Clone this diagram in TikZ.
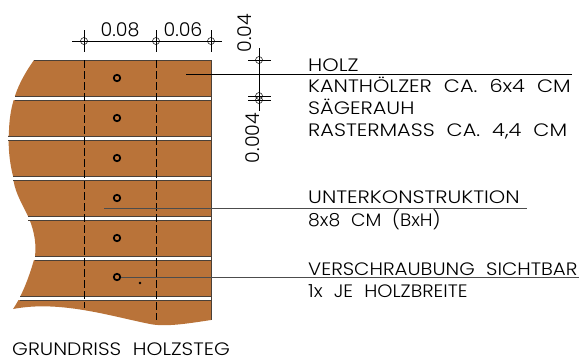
\documentclass[tikz,border=0pt]{standalone}
\usepackage{graphicx}
\usepackage{fontspec}
\setmainfont{Poppins Light}[FakeStretch=1.16]
\newfontfamily\massfont{Poppins Light}
\definecolor{holz}{HTML}{B97339}
\definecolor{fuge}{HTML}{4A4038}
\newcommand{\wortabstand}{\spaceskip=12pt\relax}
\tikzset{
  txt/.style={anchor=base west,inner sep=0pt,font=\fontsize{18}{20}\selectfont,execute at begin node=\wortabstand},
  mass/.style={inner sep=0pt,font=\massfont\fontsize{19}{20}\selectfont},
  schraube/.style={circle,draw=black,line width=1.7pt,minimum size=6.5pt,inner sep=0pt,fill=holz},
  masspunkt/.style={circle,draw=black,line width=.5pt,minimum size=7pt,inner sep=0pt},
  leader/.style={line width=1pt,black!70},
  dim/.style={line width=.6pt,black},
}
\begin{document}
\begin{tikzpicture}[x=1pt,y=-1pt]
  \useasboundingbox (0,0) rectangle (580,360);
  % holzflaeche
  \fill[holz] (34,60)--(211,60)--(211,320) .. controls (185,324) and (165,327) .. (150,324)
    .. controls (110,316) and (60,300) .. (13,309)
    .. controls (22,296) and (30,275) .. (35,256)
    .. controls (37,240) and (32,225) .. (28,216)
    .. controls (20,200) and (14,190) .. (13,176)
    .. controls (9,160) and (8,145) .. (9,130)
    .. controls (10,100) and (20,80) .. (34,60)--cycle;
  \draw[line width=.9pt,fuge] (34,60)--(211,60);
  % fugen
  \foreach \y/\x in {98/15,138/8,178/13,218/28,258/35,298/20}{
    \fill[white] (0,\y-2) rectangle (212,\y+2);
    \draw[line width=.9pt,fuge] (\x,\y-2)--(211,\y-2);
    \draw[line width=.9pt,fuge] (\x,\y+2)--(211,\y+2);
  }
  \draw[line width=.9pt,fuge] (211,60)--(211,320);
  % schnittlinien
  \draw[dim,dash pattern=on 8pt off 3pt] (84,60)--(84,308);
  \draw[dim,dash pattern=on 8pt off 3pt] (156,60)--(156,320);
  % schrauben
  \foreach \n/\y in {a/78,b/118,c/158,d/198,e/238,f/277}
    \node[schraube] (s\n) at (117,\y) {};
  \fill (140,283) circle (1.3pt);
  % masskette oben
  \node[masspunkt] (m1) at (84,41) {};
  \node[masspunkt] (m2) at (156,41) {};
  \node[masspunkt] (m3) at (211,41) {};
  \draw[dim] (72,41)--(222,41);
  \foreach \n in {m1,m2,m3}
    \draw[dim] (\n.center)++(0,-11)--++(0,22);
  \node[mass] (l08) at (120,30) {0.08};
  \node[mass] (l06) at (183,30) {0.06};
  % masskette rechts
  \node[masspunkt] (r1) at (259,60) {};
  \node[masspunkt] (r2) at (259,96) {};
  \node[masspunkt] (r3) at (259,100) {};
  \draw[dim] (259,48)--(259,111);
  \foreach \n in {r1,r2,r3}
    \draw[dim] (\n.center)++(-11,0)--++(23,0);
  \node[mass,rotate=90] (l04) at (245,33) {0.04};
  \node[mass,rotate=90] (l004) at (253,138) {0.004};
  % texte
  \node[txt] (holz) at (308,71) {HOLZ};
  \node[txt] (kant) at (308,92) {KANTHÖLZER CA. 6x4 CM};
  \node[txt] (saeg) at (308,114) {SÄGERAUH};
  \node[txt] (rast) at (308,136) {RASTERMASS CA. 4,4 CM};
  \node[txt] (unter) at (308,203) {UNTERKONSTRUKTION};
  \node[txt] (acht) at (308,226) {\scalebox{.9}[1]{8x8 CM (BxH)}};
  \node[txt] (versch) at (308,275) {\scalebox{.95}[1]{VERSCHRAUBUNG SICHTBAR}};
  \node[txt] (jeh) at (308,297) {\scalebox{.925}[1]{1x JE HOLZBREITE}};
  \node[txt] (titel) at (12,355) {\scalebox{.97}[1]{GRUNDRISS HOLZSTEG}};
  % hinweislinien
  \coordinate (h1) at (186,74);
  \coordinate (h1e) at (572,74);
  \coordinate (h2) at (104,208);
  \coordinate (h2e) at (527,208);
  \coordinate (h3e) at (579,277);
  \draw[line width=.7pt,black] (h1)--(h1e);
  \draw[leader] (h2)--(h2e);
  \draw[leader] (sf)--(h3e);
\end{tikzpicture}
\end{document}
